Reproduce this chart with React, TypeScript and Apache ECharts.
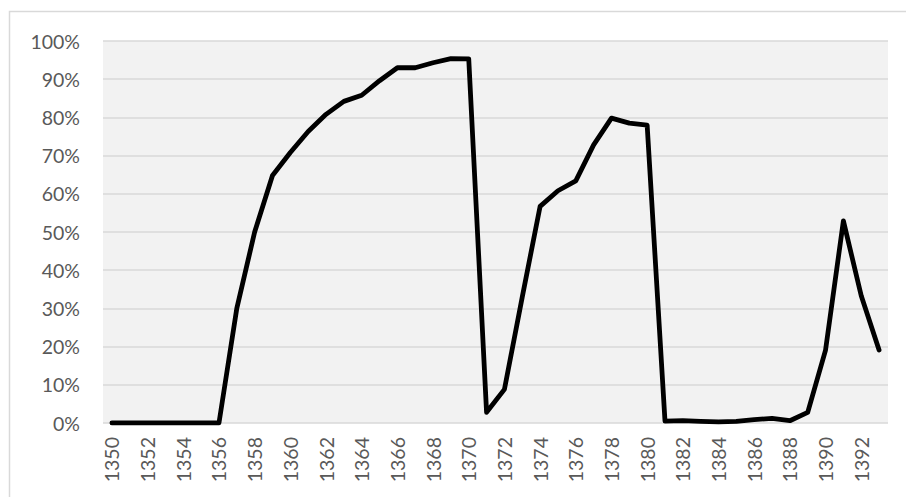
import React, { useEffect, useRef } from "react";
import * as echarts from "echarts";

const years: string[] = [];
for (let y = 1350; y <= 1393; y++) years.push(String(y));

const values: number[] = [
  0, 0, 0, 0, 0, 0, 0, // 1350-1356
  30, 50, 64.8, 70.8, 76.3, 80.8, 84.2, 85.8, 89.6, 93, 93, 94.3, 95.4, 95.3, // 1357-1370
  2.8, 8.8, 33, 56.7, 60.8, 63.4, 72.8, 79.8, 78.5, 78, // 1371-1380
  0.5, 0.6, 0.4, 0.3, 0.4, 0.9, 1.2, 0.6, 2.8, 19.1, 52.9, 33.3, 19.1, // 1381-1393
];

const yTicks = { min: 0, max: 100, interval: 10 };

export default function App() {
  const ref = useRef<HTMLDivElement>(null);
  useEffect(() => {
    if (!ref.current) return;
    const chart = echarts.init(ref.current, null, { renderer: "svg" });
    const font = "Lato, 'Open Sans', sans-serif";
    chart.setOption({
      animation: false,
      backgroundColor: "#ffffff",
      graphic: [
        {
          type: "rect",
          shape: { x: 9.5, y: 11.5, width: 1200, height: 1200 },
          style: { fill: "none", stroke: "#d9d9d9", lineWidth: 1.5 },
          silent: true,
        },
      ],
      grid: {
        left: 103,
        right: 18,
        top: 41,
        bottom: 74,
        show: true,
        backgroundColor: "#f2f2f2",
        borderWidth: 0,
      },
      xAxis: {
        type: "category",
        data: years,
        boundaryGap: true,
        axisLine: { show: false },
        axisTick: { show: false },
        axisLabel: {
          interval: 1,
          rotate: 90,
          margin: 14,
          color: "#595959",
          fontSize: 19.5,
          fontFamily: font,
        },
      },
      yAxis: {
        type: "value",
        min: yTicks.min,
        max: yTicks.max,
        interval: yTicks.interval,
        axisLine: { show: false },
        axisTick: { show: false },
        splitLine: { lineStyle: { color: "#d9d9d9", width: 1.5 } },
        axisLabel: {
          formatter: "{value}%",
          margin: 23,
          color: "#595959",
          fontSize: 19.5,
          fontFamily: font,
        },
      },
      series: [
        {
          type: "line",
          data: values,
          symbol: "none",
          lineStyle: { color: "#000000", width: 4.8, cap: "round", join: "round" },
        },
      ],
    });
    return () => chart.dispose();
  }, []);
  return (
    <div
      ref={ref}
      style={{ position: "fixed", left: 0, top: 0, width: 906, height: 497 }}
    />
  );
}
